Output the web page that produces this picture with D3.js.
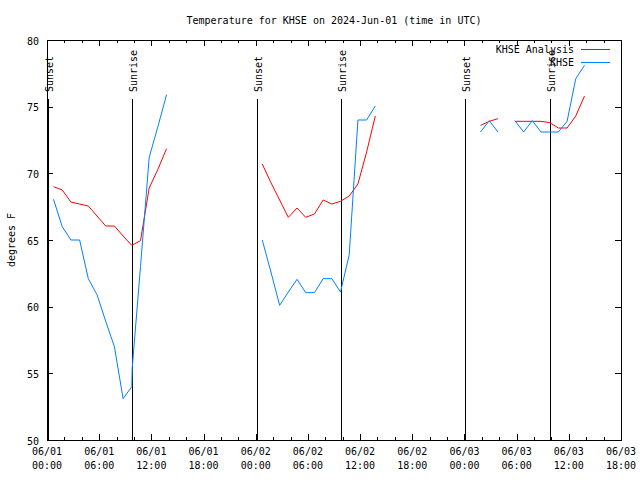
<!DOCTYPE html>
<html>
<head>
<meta charset="utf-8">
<script src="https://cdn.jsdelivr.net/npm/d3@7"></script>
<style>
  body { margin: 0; background: #fff; }
  text { font-family: "DejaVu Sans Mono", monospace; font-size: 10px; fill: #000; }
</style>
</head>
<body>
<div id="chart"></div>
<script>
// hours since 2024-06-01 00:00 UTC, null = gap in the record
const analysisHours = [
  0.75, 1.75, 2.75, 3.75, 4.75, 5.75, 6.75, 7.75, 8.75, 9.75, 10.75, 11.75, 12.75, 13.75, null,
  24.75, 25.75, 26.75, 27.75, 28.75, 29.75, 30.75, 31.75, 32.75, 33.75, 34.75, 35.75, 36.75, 37.75, null,
  49.85, 50.85, 51.85, null,
  53.8, 54.8, 55.8, 56.8, 57.8, 58.8, 59.8, 60.8, 61.8
];
const analysisTemps = [
  69.0, 68.75, 67.85, 67.7, 67.55, 66.8, 66.05, 66.05, 65.3, 64.6, 64.95, 68.9, 70.3, 71.85, null,
  70.7, 69.3, 68.0, 66.7, 67.4, 66.7, 66.95, 68.0, 67.7, 67.9, 68.3, 69.2, 71.6, 74.3, null,
  73.6, 73.9, 74.1, null,
  73.9, 73.9, 73.9, 73.9, 73.8, 73.4, 73.4, 74.3, 75.8
];
const obsHours = [
  0.75, 1.75, 2.75, 3.75, 4.75, 5.75, 6.75, 7.75, 8.75, 9.75, 9.8, 10.75, 11.75, 12.75, 13.75, null,
  24.75, 25.75, 26.75, 27.75, 28.75, 29.75, 30.75, 31.75, 32.75, 33.75, 34.75, 35.75, 36.75, 37.75, null,
  49.85, 50.85, 51.85, null,
  53.8, 54.8, 55.8, 56.8, 57.8, 58.8, 59.8, 60.8, 61.8
];
const obsTemps = [
  68.05, 66.0, 65.0, 65.0, 62.1, 60.9, 58.9, 57.0, 53.1, 54.0, 55.4, 63.0, 71.2, 73.5, 75.9, null,
  65.0, 62.6, 60.1, 61.1, 62.05, 61.05, 61.05, 62.1, 62.1, 61.1, 63.9, 74.0, 74.0, 75.05, null,
  73.1, 73.95, 73.1, null,
  73.95, 73.1, 73.95, 73.1, 73.1, 73.1, 73.9, 77.1, 78.1
];
const sunsetHours = [0.1, 24.1, 48.1];
const sunriseHours = [9.83, 33.83, 57.83];
const yTicks = [50, 55, 60, 65, 70, 75, 80];

const width = 640;
const height = 480;
const margin = { top: 40, left: 47, bottom: 40, right: 19 };

const start = Date.UTC(2024, 5, 1);
const hr = (h) => new Date(start + h * 3600e3);

const x = d3.scaleUtc()
  .domain([hr(0), hr(66)])
  .range([margin.left, width - margin.right]);

const y = d3.scaleLinear()
  .domain([50, 80])
  .range([height - margin.bottom, margin.top]);

const svg = d3.select("#chart")
  .append("svg")
  .attr("width", width)
  .attr("height", height);

const majorTicks = d3.utcHour.every(6).range(hr(0), hr(66.1));
const minorTicks = d3.utcHour.every(2).range(hr(0), hr(66.1))
  .filter((d) => d.getUTCHours() % 6 !== 0);

const axes = svg.append("g").attr("shape-rendering", "crispEdges");

const addAxis = (axis, transform) => {
  const a = axes.append("g").attr("transform", transform).call(axis);
  a.select(".domain").remove();
  a.selectAll(".tick line").attr("stroke", "#000");
  return a;
};

const atBottom = `translate(0,${height - margin.bottom})`;
const atTop = `translate(0,${margin.top})`;
addAxis(d3.axisBottom(x).tickValues(majorTicks).tickSize(-6).tickFormat(""), atBottom);
addAxis(d3.axisBottom(x).tickValues(minorTicks).tickSize(-3).tickFormat(""), atBottom);
addAxis(d3.axisTop(x).tickValues(majorTicks).tickSize(-6).tickFormat(""), atTop);
addAxis(d3.axisTop(x).tickValues(minorTicks).tickSize(-3).tickFormat(""), atTop);
addAxis(d3.axisLeft(y).tickValues(yTicks).tickSize(-6).tickFormat(""), `translate(${margin.left},0)`);
addAxis(d3.axisRight(y).tickValues(yTicks).tickSize(-6).tickFormat(""), `translate(${width - margin.right},0)`);

axes.append("rect")
  .attr("x", margin.left)
  .attr("y", margin.top)
  .attr("width", width - margin.left - margin.right)
  .attr("height", height - margin.top - margin.bottom)
  .attr("fill", "none")
  .attr("stroke", "#000");

// tick labels
const fmtDay = d3.utcFormat("%m/%d");
const fmtTime = d3.utcFormat("%H:%M");
const xl = svg.append("g").selectAll("text").data(majorTicks).enter()
  .append("text")
  .attr("text-anchor", "middle");
xl.append("tspan").attr("x", (d) => x(d)).attr("y", 455).text(fmtDay);
xl.append("tspan").attr("x", (d) => x(d)).attr("y", 469).text(fmtTime);

svg.append("g").selectAll("text").data(yTicks).enter()
  .append("text")
  .attr("text-anchor", "end")
  .attr("x", 39)
  .attr("y", (d) => y(d) + 1)
  .attr("dy", "0.35em")
  .text((d) => d);

// sunrise / sunset markers
const events = sunsetHours.map((h) => ({ h, label: "Sunset" }))
  .concat(sunriseHours.map((h) => ({ h, label: "Sunrise" })));

svg.append("g").attr("shape-rendering", "crispEdges")
  .selectAll("line").data(events).enter()
  .append("line")
  .attr("x1", (d) => Math.round(x(hr(d.h))) + 0.5)
  .attr("x2", (d) => Math.round(x(hr(d.h))) + 0.5)
  .attr("y1", 99)
  .attr("y2", height - margin.bottom)
  .attr("stroke", "#000");

svg.append("g").selectAll("text").data(events).enter()
  .append("text")
  .attr("transform", (d) => `translate(${x(hr(d.h)) + 1.5},92) rotate(-90)`)
  .attr("dy", "0.35em")
  .text((d) => d.label);

// series
const makePoints = (hours, temps) => hours.map((h, i) => ({ h, v: temps[i] }));
const line = d3.line()
  .defined((d) => d.h != null && d.v != null)
  .x((d) => x(hr(d.h)))
  .y((d) => y(d.v));

const series = [
  { name: "KHSE Analysis", color: "#ff0000", pts: makePoints(analysisHours, analysisTemps) },
  { name: "KHSE", color: "#0080ff", pts: makePoints(obsHours, obsTemps) }
];

svg.append("g").selectAll("path").data(series).enter()
  .append("path")
  .attr("d", (d) => line(d.pts))
  .attr("fill", "none")
  .attr("stroke", (d) => d.color)
  .attr("stroke-width", 1);

// legend
const legend = svg.append("g").selectAll("g").data(series).enter()
  .append("g")
  .attr("transform", (d, i) => `translate(0,${49.5 + i * 13})`);
legend.append("text")
  .attr("x", 574)
  .attr("text-anchor", "end")
  .attr("dy", "0.35em")
  .text((d) => d.name);
legend.append("line")
  .attr("x1", 581)
  .attr("x2", 610)
  .attr("stroke", (d) => d.color)
  .attr("shape-rendering", "crispEdges");

// title and axis label
svg.append("text")
  .attr("x", 334)
  .attr("y", 20)
  .attr("dy", "0.35em")
  .attr("text-anchor", "middle")
  .text("Temperature for KHSE on 2024-Jun-01 (time in UTC)");

svg.append("text")
  .attr("transform", "translate(11,240) rotate(-90)")
  .attr("text-anchor", "middle")
  .attr("dy", "0.35em")
  .text("degrees F");
</script>
</body>
</html>
